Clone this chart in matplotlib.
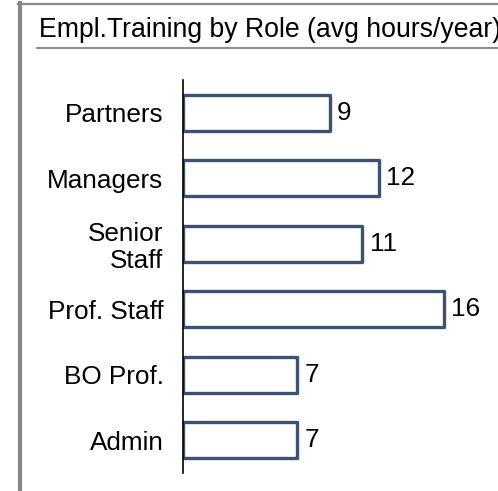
import matplotlib.pyplot as plt
from matplotlib.lines import Line2D

# data
roles = ['Partners', 'Managers', 'Senior\nStaff', 'Prof. Staff', 'BO Prof.', 'Admin']
hours = [9, 12, 11, 16, 7, 7]

plt.rcParams['font.family'] = ['Liberation Sans', 'DejaVu Sans']

W, H = 498, 491
fig = plt.figure(figsize=(W / 100, H / 100), dpi=100)

def px(x, y):
    # pixel coords (top-left origin) -> figure fraction
    return x / W, 1 - y / H

# frame lines
fig.add_artist(Line2D([20 / W, 20 / W], [px(0, 3)[1], 0], color='#888888', lw=3.0))
fig.add_artist(Line2D([18 / W, 1], [px(0, 4)[1]] * 2, color='#888888', lw=1.6))
fig.add_artist(Line2D([37 / W, 1], [px(0, 48)[1]] * 2, color='#777777', lw=1.2))

fig.text(39 / W, px(0, 37)[1], 'Empl.Training by Role (avg hours/year)',
         fontsize=19.2, ha='left', va='baseline', color='black')

# axes: left spine at x=183, categories spanning y=80..473
left, top, bottom = 183, 80, 473
ax = fig.add_axes([left / W, 1 - bottom / H, (W - left) / W, (bottom - top) / H])
ax.set_xlim(0, (W - left) / 16.3)
ax.set_ylim(len(roles) - 0.5, -0.5)

ypos = range(len(roles))
ax.barh(ypos, hours, height=0.55, color='white', edgecolor='#3d5273',
        linewidth=2.4, joinstyle='round')

for y, v in zip(ypos, hours):
    ax.text(v + 0.45, y, str(v), ha='left', va='center', fontsize=18.8)

ax.set_yticks(list(ypos))
ax.set_yticklabels(roles, fontsize=18.8, linespacing=1.15, ha='right')
ax.tick_params(axis='y', length=0, pad=14)
ax.set_xticks([])
for s in ['top', 'right', 'bottom']:
    ax.spines[s].set_visible(False)
ax.spines['left'].set_linewidth(1.2)
ax.spines['left'].set_color('black')

fig.savefig('out.png', dpi=100)
